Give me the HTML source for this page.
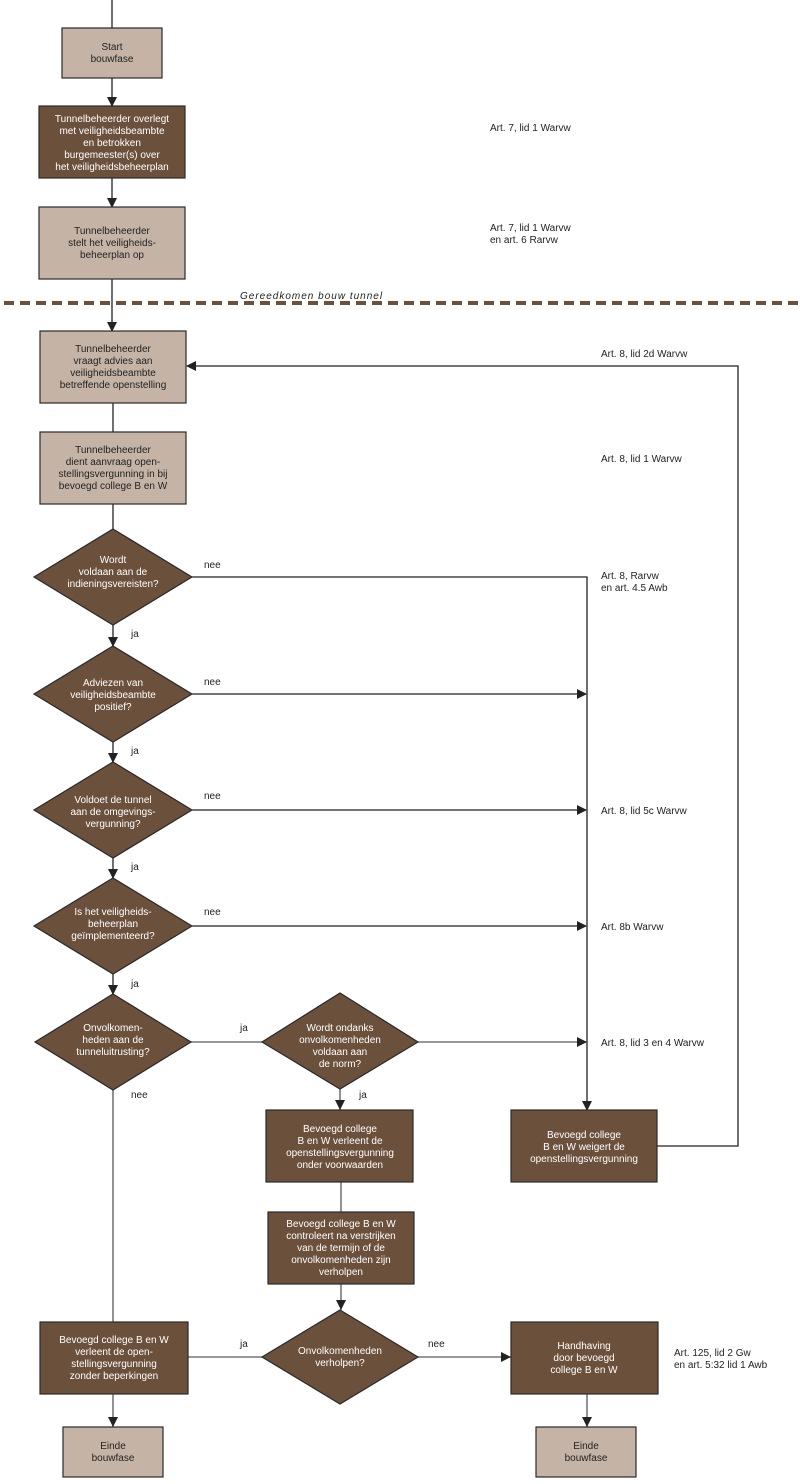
<!DOCTYPE html>
<html><head><meta charset="utf-8"><style>
html,body{margin:0;padding:0;background:#fff;}
svg{display:block;font-family:"Liberation Sans",sans-serif;}
.d{fill:#6b503c;stroke:#2a2a2a;stroke-width:1.2}
.l{fill:#c5b4a6;stroke:#2a2a2a;stroke-width:1.2}
.tw{fill:#fff;font-size:10px;text-anchor:middle}
.tb{fill:#222;font-size:10px;text-anchor:middle}
.lab{fill:#222;font-size:10px}
.ln{stroke:#222;stroke-width:1.3;fill:none}
.lg{stroke:#777;stroke-width:1.6;fill:none}
</style></head><body>
<svg width="800" height="1484" viewBox="0 0 800 1484">
<defs><marker id="a" markerWidth="10" markerHeight="10" refX="9" refY="5" orient="auto" markerUnits="userSpaceOnUse"><path d="M0,0 L10,5 L0,10 z" fill="#222"/></marker></defs>
<!-- top connectors -->
<path class="ln" d="M112,0 V28"/>
<path class="ln" d="M112,78 V106" marker-end="url(#a)"/>
<path class="ln" d="M112,178 V207" marker-end="url(#a)"/>
<path class="ln" d="M112,279 V331" marker-end="url(#a)"/>
<path class="ln" d="M113,403 V432"/>
<path class="ln" d="M113,504 V529"/>
<path class="ln" d="M113,625 V646" marker-end="url(#a)"/>
<path class="ln" d="M113,742 V762" marker-end="url(#a)"/>
<path class="ln" d="M113,858 V878" marker-end="url(#a)"/>
<path class="ln" d="M113,974 V994" marker-end="url(#a)"/>
<!-- nee lines -->
<path class="ln" d="M192,577 H587 V1110" marker-end="url(#a)"/>
<path class="ln" d="M192,694 H586" marker-end="url(#a)"/>
<path class="ln" d="M192,810 H586" marker-end="url(#a)"/>
<path class="ln" d="M192,926 H586" marker-end="url(#a)"/>
<path class="lg" d="M191,1042 H262"/>
<path class="lg" d="M418,1042 H586" />
<path d="M577,1037 L587,1042 L577,1047z" fill="#222"/>
<!-- feedback loop -->
<path class="ln" d="M657,1146 H738 V366 H187" marker-end="url(#a)"/>
<!-- lower -->
<path class="lg" d="M113,1090 V1322"/>
<path class="lg" d="M340,1089 V1110"/><path d="M335,1100 L340,1110 L345,1100z" fill="#222"/>
<path class="lg" d="M341,1182 V1212"/>
<path class="lg" d="M341,1284 V1310"/><path d="M336,1300 L341,1310 L346,1300z" fill="#222"/>
<path class="lg" d="M188,1357 H262"/>
<path class="lg" d="M418,1357 H511"/><path d="M501,1352 L511,1357 L501,1362z" fill="#222"/>
<path class="lg" d="M113,1394 V1427"/><path d="M108,1417 L113,1427 L118,1417z" fill="#222"/>
<path class="lg" d="M587,1394 V1427"/><path d="M582,1417 L587,1427 L592,1417z" fill="#222"/>
<!-- dashed -->
<path d="M4,303 H800" stroke="#6b503c" stroke-width="4" stroke-dasharray="10,6"/>
<text x="240" y="299" class="lab" font-style="italic" style="letter-spacing:1px">Gereedkomen bouw tunnel</text>
<!-- boxes -->
<rect class="l" x="62" y="28" width="100" height="50"/>
<text class="tb" x="112" y="50">Start</text><text class="tb" x="112" y="62">bouwfase</text>
<rect class="d" x="39" y="106" width="146" height="72"/>
<text class="tw" x="112" y="122">Tunnelbeheerder overlegt</text><text class="tw" x="112" y="134">met veiligheidsbeambte</text><text class="tw" x="112" y="146">en betrokken</text><text class="tw" x="112" y="158">burgemeester(s) over</text><text class="tw" x="112" y="170">het veiligheidsbeheerplan</text>
<rect class="l" x="39" y="207" width="146" height="72"/>
<text class="tb" x="112" y="234">Tunnelbeheerder</text><text class="tb" x="112" y="246">stelt het veiligheids-</text><text class="tb" x="112" y="258">beheerplan op</text>
<rect class="l" x="40" y="331" width="146" height="72"/>
<text class="tb" x="113" y="352">Tunnelbeheerder</text><text class="tb" x="113" y="364">vraagt advies aan</text><text class="tb" x="113" y="376">veiligheidsbeambte</text><text class="tb" x="113" y="388">betreffende openstelling</text>
<rect class="l" x="40" y="432" width="146" height="72"/>
<text class="tb" x="113" y="453">Tunnelbeheerder</text><text class="tb" x="113" y="465">dient aanvraag open-</text><text class="tb" x="113" y="477">stellingsvergunning in bij</text><text class="tb" x="113" y="489">bevoegd college B en W</text>
<!-- diamonds -->
<polygon class="d" points="113,529 192,577 113,625 34,577"/>
<text class="tw" x="113" y="563">Wordt</text><text class="tw" x="113" y="575">voldaan aan de</text><text class="tw" x="113" y="587">indieningsvereisten?</text>
<polygon class="d" points="113,646 192,694 113,742 34,694"/>
<text class="tw" x="113" y="686">Adviezen van</text><text class="tw" x="113" y="698">veiligheidsbeambte</text><text class="tw" x="113" y="710">positief?</text>
<polygon class="d" points="113,762 192,810 113,858 34,810"/>
<text class="tw" x="113" y="803">Voldoet de tunnel</text><text class="tw" x="113" y="815">aan de omgevings-</text><text class="tw" x="113" y="827">vergunning?</text>
<polygon class="d" points="113,878 192,926 113,974 34,926"/>
<text class="tw" x="113" y="915">Is het veiligheids-</text><text class="tw" x="113" y="927">beheerplan</text><text class="tw" x="113" y="939">geïmplementeerd?</text>
<polygon class="d" points="113,994 191,1042 113,1090 35,1042"/>
<text class="tw" x="113" y="1031">Onvolkomen-</text><text class="tw" x="113" y="1043">heden aan de</text><text class="tw" x="113" y="1055">tunneluitrusting?</text>
<polygon class="d" points="340,993 418,1042 340,1089 262,1042"/>
<text class="tw" x="340" y="1031">Wordt ondanks</text><text class="tw" x="340" y="1043">onvolkomenheden</text><text class="tw" x="340" y="1055">voldaan aan</text><text class="tw" x="340" y="1067">de norm?</text>
<polygon class="d" points="340,1310 418,1357 340,1404 262,1357"/>
<text class="tw" x="340" y="1354">Onvolkomenheden</text><text class="tw" x="340" y="1366">verholpen?</text>
<!-- lower boxes -->
<rect class="d" x="266" y="1110" width="147" height="72"/>
<text class="tw" x="340" y="1132">Bevoegd college</text><text class="tw" x="340" y="1144">B en W verleent de</text><text class="tw" x="340" y="1156">openstellingsvergunning</text><text class="tw" x="340" y="1168">onder voorwaarden</text>
<rect class="d" x="511" y="1110" width="146" height="72"/>
<text class="tw" x="584" y="1138">Bevoegd college</text><text class="tw" x="584" y="1150">B en W weigert de</text><text class="tw" x="584" y="1162">openstellingsvergunning</text>
<rect class="d" x="268" y="1212" width="146" height="72"/>
<text class="tw" x="341" y="1227">Bevoegd college B en W</text><text class="tw" x="341" y="1239">controleert na verstrijken</text><text class="tw" x="341" y="1251">van de termijn of de</text><text class="tw" x="341" y="1263">onvolkomenheden zijn</text><text class="tw" x="341" y="1275">verholpen</text>
<rect class="d" x="40" y="1322" width="148" height="72"/>
<text class="tw" x="114" y="1343">Bevoegd college B en W</text><text class="tw" x="114" y="1355">verleent de open-</text><text class="tw" x="114" y="1367">stellingsvergunning</text><text class="tw" x="114" y="1379">zonder beperkingen</text>
<rect class="d" x="511" y="1322" width="147" height="72"/>
<text class="tw" x="584" y="1349">Handhaving</text><text class="tw" x="584" y="1361">door bevoegd</text><text class="tw" x="584" y="1373">college B en W</text>
<rect class="l" x="63" y="1427" width="100" height="50"/>
<text class="tb" x="113" y="1449">Einde</text><text class="tb" x="113" y="1461">bouwfase</text>
<rect class="l" x="536" y="1427" width="100" height="50"/>
<text class="tb" x="586" y="1449">Einde</text><text class="tb" x="586" y="1461">bouwfase</text>
<!-- edge labels -->
<text class="lab" x="204" y="568">nee</text>
<text class="lab" x="204" y="685">nee</text>
<text class="lab" x="204" y="799">nee</text>
<text class="lab" x="204" y="915">nee</text>
<text class="lab" x="131" y="637">ja</text>
<text class="lab" x="131" y="754">ja</text>
<text class="lab" x="131" y="870">ja</text>
<text class="lab" x="131" y="987">ja</text>
<text class="lab" x="240" y="1031">ja</text>
<text class="lab" x="131" y="1098">nee</text>
<text class="lab" x="359" y="1098">ja</text>
<text class="lab" x="240" y="1347">ja</text>
<text class="lab" x="428" y="1347">nee</text>
<!-- right labels -->
<text class="lab" x="490" y="131">Art. 7, lid 1 Warvw</text>
<text class="lab" x="490" y="231">Art. 7, lid 1 Warvw</text><text class="lab" x="490" y="243">en art. 6 Rarvw</text>
<text class="lab" x="601" y="357">Art. 8, lid 2d Warvw</text>
<text class="lab" x="601" y="462">Art. 8, lid 1 Warvw</text>
<text class="lab" x="601" y="579">Art. 8, Rarvw</text><text class="lab" x="601" y="591">en art. 4.5 Awb</text>
<text class="lab" x="601" y="814">Art. 8, lid 5c Warvw</text>
<text class="lab" x="601" y="930">Art. 8b Warvw</text>
<text class="lab" x="601" y="1046">Art. 8, lid 3 en 4 Warvw</text>
<text class="lab" x="674" y="1356">Art. 125, lid 2 Gw</text><text class="lab" x="674" y="1368">en art. 5:32 lid 1 Awb</text>
</svg>
</body></html>
